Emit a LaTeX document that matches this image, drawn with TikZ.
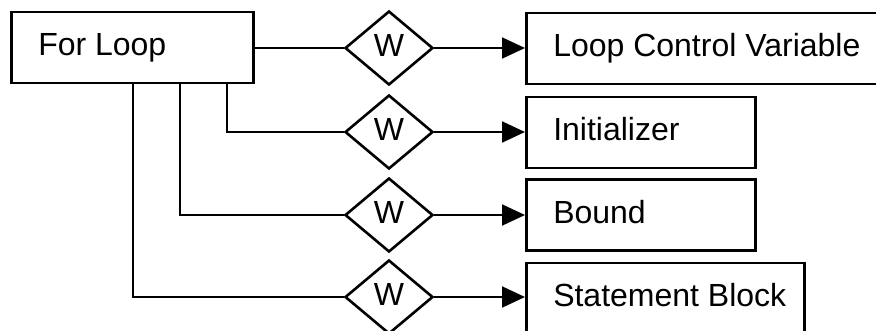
\documentclass[tikz,border=0pt]{standalone}
\usepackage{fontspec}
\setmainfont{Liberation Sans}
\usetikzlibrary{shapes.geometric,arrows.meta}
\begin{document}
\begin{tikzpicture}[x=1pt,y=-1pt,
  every node/.style={font=\fontsize{32}{38}\selectfont},
  box/.style={draw,line width=2.5pt,rectangle,minimum height=71pt,inner xsep=27pt,inner ysep=0pt,
    text height=23pt,text depth=7pt,anchor=west},
  rel/.style={draw,line width=2.6pt,diamond,minimum width=88pt,minimum height=74pt,inner sep=0pt,
    text height=23pt,text depth=7pt},
  conn/.style={line width=2pt},
  arr/.style={conn,-{Triangle[length=23pt,width=21pt]}}]
\useasboundingbox (0,0) rectangle (876,330);
\node[box] (for) at (10,47.5) {\makebox[188pt][l]{For Loop}};
\node[rel] (w1) at (389,48) {W};
\node[rel] (w2) at (389,132) {W};
\node[rel] (w3) at (389,215) {W};
\node[rel] (w4) at (389,297) {W};
\node[box] (lcv) at (525,48.5) {\makebox[301pt][l]{Loop Control Variable}};
\node[box] (init) at (525,132.5) {\makebox[175pt][l]{Initializer}};
\node[box] (bnd) at (525,215) {\makebox[175pt][l]{Bound}};
\node[box] (stmt) at (525,298.5) {\makebox[224pt][l]{Statement Block}};
\coordinate (f1) at (227,83);
\coordinate (f2) at (180,83);
\coordinate (f3) at (133,83);
\draw[conn] (for.east |- w1.west) -- (w1.west);
\draw[conn] (f1) |- (w2.west);
\draw[conn] (f2) |- (w3.west);
\draw[conn] (f3) |- (w4.west);
\draw[arr] (w1.east) -- (lcv.west |- w1.east);
\draw[arr] (w2.east) -- (init.west |- w2.east);
\draw[arr] (w3.east) -- (bnd.west |- w3.east);
\draw[arr] (w4.east) -- (stmt.west |- w4.east);
\end{tikzpicture}
\end{document}
